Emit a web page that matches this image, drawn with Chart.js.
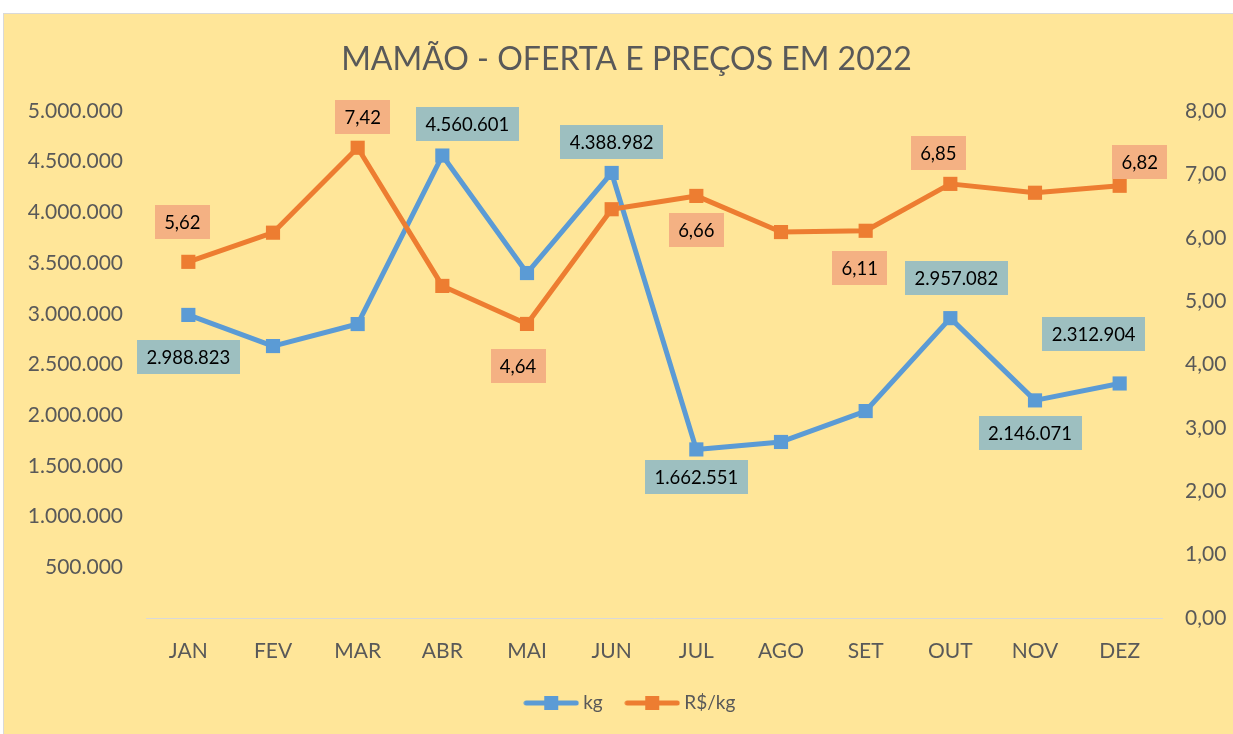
<!DOCTYPE html>
<html>
<head>
<meta charset="utf-8">
<script src="https://cdn.jsdelivr.net/npm/chart.js@4.4.0/dist/chart.umd.min.js"></script>
<style>
  html, body { margin: 0; padding: 0; background: #fff; }
  body { width: 1233px; height: 734px; overflow: hidden; position: relative; }
  .quadro { position: absolute; left: 3px; top: 13px; width: 1230px; height: 721px; background: #FFE699;
            border-left: 1px solid #D9D9D9; border-top: 1px solid #D9D9D9; box-sizing: border-box; }
  canvas { position: absolute; left: 0; top: 0; }
</style>
</head>
<body>
<div class="quadro"><canvas id="grafico" width="1229" height="720"></canvas></div>
<script>
var meses = ['JAN', 'FEV', 'MAR', 'ABR', 'MAI', 'JUN', 'JUL', 'AGO', 'SET', 'OUT', 'NOV', 'DEZ'];
var kg = [2988823, 2682000, 2899000, 4560601, 3402000, 4388982, 1662551, 1736000, 2041000, 2957082, 2146071, 2312904];
var precos = [5.62, 6.08, 7.42, 5.24, 4.64, 6.45, 6.66, 6.09, 6.11, 6.85, 6.71, 6.82];

// deslocamento dos rótulos em relação ao ponto (null = sem rótulo)
var rotulosKg = [[0, 42], null, null, [25, -32], null, [0, -31], [0, 28], null, null, [6, -40], [-5, 33], [-26, -49]];
var rotulosPreco = [[-6, -40], null, [5, -31], null, [-9, 42], null, [0, 34], null, [-6, 37], [-12, -31], null, [20, -24]];

var azul = '#5B9BD5';
var laranja = '#ED7D31';
var cinza = '#595959';

function fmtInt(n) {
    return String(Math.round(n)).replace(/\B(?=(\d{3})+(?!\d))/g, '.');
}
function fmtDec(v) {
    return v.toFixed(2).replace('.', ',');
}

function amostra(cor) {
    let c = document.createElement('canvas');
    c.width = 56;
    c.height = 16;
    let g = c.getContext('2d');
    g.strokeStyle = cor;
    g.lineWidth = 5;
    g.lineCap = 'round';
    g.beginPath();
    g.moveTo(3, 8);
    g.lineTo(53, 8);
    g.stroke();
    g.fillStyle = cor;
    g.fillRect(21, 1, 14, 14);
    return c;
}
var amostras = [amostra(azul), amostra(laranja)];

var series = [
    { offsets: rotulosKg, values: kg, format: fmtInt, bg: '#9DBFC0' },
    { offsets: rotulosPreco, values: precos, format: fmtDec, bg: '#F4B183' }
];

var etiquetas = {
    id: 'etiquetas',
    afterLayout(chart) {
        // no Excel o título e a legenda ficam um pouco à direita do centro
        chart.titleBlock.left += 8;
        chart.titleBlock.right += 8;
        chart.legend.left += 13.5;
        chart.legend.right += 13.5;
    },
    afterDatasetsDraw(chart) {
        let ctx = chart.ctx;
        ctx.save();
        ctx.font = '18.5px Lato';
        ctx.textAlign = 'center';
        ctx.textBaseline = 'middle';
        series.forEach(function (s, i) {
            let meta = chart.getDatasetMeta(i);
            meta.data.forEach(function (pt, j) {
                let off = s.offsets[j];
                if (!off) return;
                let txt = s.format(s.values[j]);
                let w = Math.round(ctx.measureText(txt).width + 19);
                let h = 34;
                let cx = pt.x + off[0], cy = pt.y + off[1];
                ctx.fillStyle = s.bg;
                ctx.fillRect(Math.round(cx - w / 2), Math.round(cy - h / 2), w, h);
                ctx.fillStyle = '#000';
                ctx.fillText(txt, cx, cy + 1);
            });
        });
        ctx.restore();
    }
};

var ctx = document.getElementById('grafico').getContext('2d');
var grafico = new Chart(ctx, {
    type: 'line',
    data: {
        labels: meses,
        datasets: [{
            label: 'kg',
            data: kg,
            yAxisID: 'y',
            borderColor: azul,
            backgroundColor: azul,
            borderWidth: 5,
            borderCapStyle: 'round',
            borderJoinStyle: 'round',
            pointStyle: 'rect',
            pointRadius: 10,
            pointBorderWidth: 0,
            pointBackgroundColor: azul,
            order: 1
        }, {
            label: 'R$/kg',
            data: precos,
            yAxisID: 'y1',
            borderColor: laranja,
            backgroundColor: laranja,
            borderWidth: 5,
            borderCapStyle: 'round',
            borderJoinStyle: 'round',
            pointStyle: 'rect',
            pointRadius: 10,
            pointBorderWidth: 0,
            pointBackgroundColor: laranja,
            order: 0
        }]
    },
    options: {
        responsive: false,
        animation: false,
        devicePixelRatio: 1,
        layout: { padding: { left: 0, right: 0, top: 0, bottom: 11.5 } },
        plugins: {
            title: {
                display: true,
                text: 'MAMÃO - OFERTA E PREÇOS EM 2022',
                color: cinza,
                font: { family: 'Lato', size: 32, weight: 'normal' },
                padding: { top: 26, bottom: 32.6 }
            },
            legend: {
                position: 'bottom',
                labels: {
                    usePointStyle: true,
                    pointStyleWidth: 45,
                    padding: 27,
                    color: cinza,
                    font: { family: 'Lato', size: 19 },
                    sort: function (a, b) { return a.datasetIndex - b.datasetIndex; },
                    generateLabels: function (chart) {
                        let itens = Chart.defaults.plugins.legend.labels.generateLabels(chart);
                        itens.forEach(function (it) { it.pointStyle = amostras[it.datasetIndex]; });
                        return itens;
                    }
                }
            },
            tooltip: { enabled: false }
        },
        scales: {
            x: {
                offset: true,
                grid: { display: false, drawTicks: false },
                border: { display: true, color: '#D9D9D9', width: 1 },
                ticks: { color: cinza, padding: 20.5, font: { family: 'Lato', size: 21 } },
                afterFit: function (s) { s.height = 48.5; }
            },
            y: {
                position: 'left',
                min: 0,
                max: 5000000,
                grid: { display: false, drawTicks: false },
                border: { display: false },
                ticks: {
                    stepSize: 500000,
                    color: cinza,
                    padding: 23,
                    font: { family: 'Lato', size: 21 },
                    callback: function (v) { return v === 0 ? '' : fmtInt(v); }
                },
                afterFit: function (s) { s.width = 142; }
            },
            y1: {
                position: 'right',
                min: 0,
                max: 8,
                grid: { display: false, drawTicks: false },
                border: { display: false },
                ticks: {
                    stepSize: 1,
                    color: cinza,
                    padding: 23,
                    font: { family: 'Lato', size: 21 },
                    callback: function (v) { return fmtDec(v); }
                },
                afterFit: function (s) { s.width = 71; }
            }
        }
    },
    plugins: [etiquetas]
});
</script>
</body>
</html>
